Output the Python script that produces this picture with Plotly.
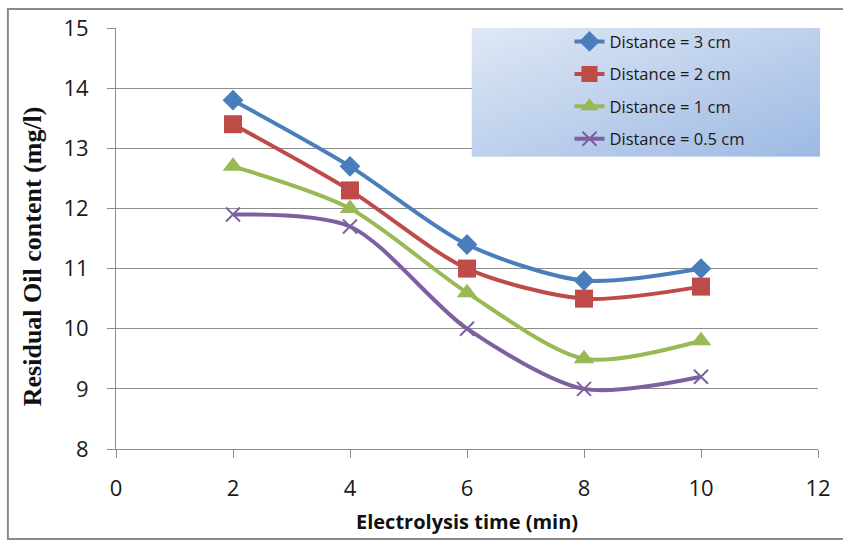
import base64
import plotly.graph_objects as go

time_min = [2, 4, 6, 8, 10]
dist_3cm = [13.8, 12.7, 11.4, 10.8, 11.0]
dist_2cm = [13.4, 12.3, 11.0, 10.5, 10.7]
dist_1cm = [12.7, 12.0, 10.6, 9.5, 9.8]
dist_05cm = [11.9, 11.7, 10.0, 9.0, 9.2]

series_names = ["Distance = 3 cm", "Distance = 2 cm", "Distance = 1 cm", "Distance = 0.5 cm"]
series_vals = [dist_3cm, dist_2cm, dist_1cm, dist_05cm]
colors = ["#4a7ebb", "#be4b48", "#98b954", "#7d60a0"]
symbols = ["diamond", "square", "triangle-up", "x-thin"]
sizes = [16, 18, 18, 14]

fig = go.Figure()
for i, (name, vals, c, s, sz) in enumerate(zip(series_names, series_vals, colors, symbols, sizes)):
    marker = dict(symbol=s, size=sz, color=c)
    if s == "x-thin":
        marker["line"] = dict(color=c, width=2)
    fig.add_trace(go.Scatter(
        x=time_min, y=vals, name=name, mode="lines+markers",
        legendgroup="g%d" % i,
        line=dict(color=c, width=4, shape="spline", smoothing=0.8),
        marker=marker,
    ))

grid_col = "#8c8c8c"
tick_font = dict(size=22, family="Open Sans, Liberation Sans, sans-serif", color="#1a1a1a")

# PLOT AREA: left 116, right 823, top 24, bottom 449 (px)
fig.update_layout(
    width=843, height=542,
    margin=dict(l=116, r=20, t=24, b=93),
    paper_bgcolor="white", plot_bgcolor="white",
    font=dict(family="Open Sans, Liberation Sans, sans-serif", color="#1a1a1a"),
    showlegend=True,
    legend=dict(
        x=0.646, y=1.009, xanchor="left", yanchor="top",
        bgcolor="rgba(0,0,0,0)", borderwidth=0,
        font=dict(size=16.5, family="Open Sans, sans-serif", color="#1a1a1a"),
        tracegroupgap=8,
    ),
    xaxis=dict(
        range=[0, 12], dtick=2, tick0=0,
        showgrid=False, zeroline=False,
        showline=True, linecolor=grid_col, linewidth=1,
        ticks="outside", ticklen=8, tickcolor=grid_col,
        tickfont=tick_font, ticklabelstandoff=12,
    ),
    yaxis=dict(
        range=[8, 15], dtick=1, tick0=8,
        showgrid=True, gridcolor=grid_col, gridwidth=1,
        zeroline=False,
        showline=True, linecolor=grid_col, linewidth=1,
        ticks="outside", ticklen=8, tickcolor=grid_col,
        tickfont=tick_font, ticklabelstandoff=14,
    ),
)

fig.add_annotation(
    text="<b>Electrolysis time (min)</b>", xref="paper", yref="paper",
    x=0.5, y=-0.172, xanchor="center", yanchor="middle", showarrow=False,
    font=dict(size=20, family="Open Sans, sans-serif", color="#111111"),
)
fig.add_annotation(
    text="<b>Residual Oil content (mg/l)</b>", xref="paper", yref="paper",
    x=-0.119, y=0.459, xanchor="center", yanchor="middle", showarrow=False,
    textangle=-90,
    font=dict(size=26, family="Liberation Serif, DejaVu Serif, serif", color="#111111"),
)

# legend background with light-blue gradient
svg = ('<svg xmlns="http://www.w3.org/2000/svg" width="351" height="130">'
       '<defs><linearGradient id="g" x1="0" y1="0" x2="1" y2="1">'
       '<stop offset="0" stop-color="#dfe8f5"/><stop offset="1" stop-color="#9db9e3"/>'
       '</linearGradient></defs>'
       '<rect width="351" height="130" fill="url(#g)"/></svg>')
src = "data:image/svg+xml;base64," + base64.b64encode(svg.encode()).decode()
fig.add_layout_image(
    source=src, xref="paper", yref="paper",
    x=0.5064, y=1.0, sizex=0.4965, sizey=0.306,
    xanchor="left", yanchor="top", sizing="stretch", layer="above",
)

# outer chart border (gray frame)
fig.add_shape(type="rect", xref="paper", yref="paper",
              x0=-0.154, x1=1.2, y0=-0.214, y1=1.045,
              line=dict(color="#8a8a8a", width=2), fillcolor="rgba(0,0,0,0)", layer="below")

fig.write_html("out.html")
